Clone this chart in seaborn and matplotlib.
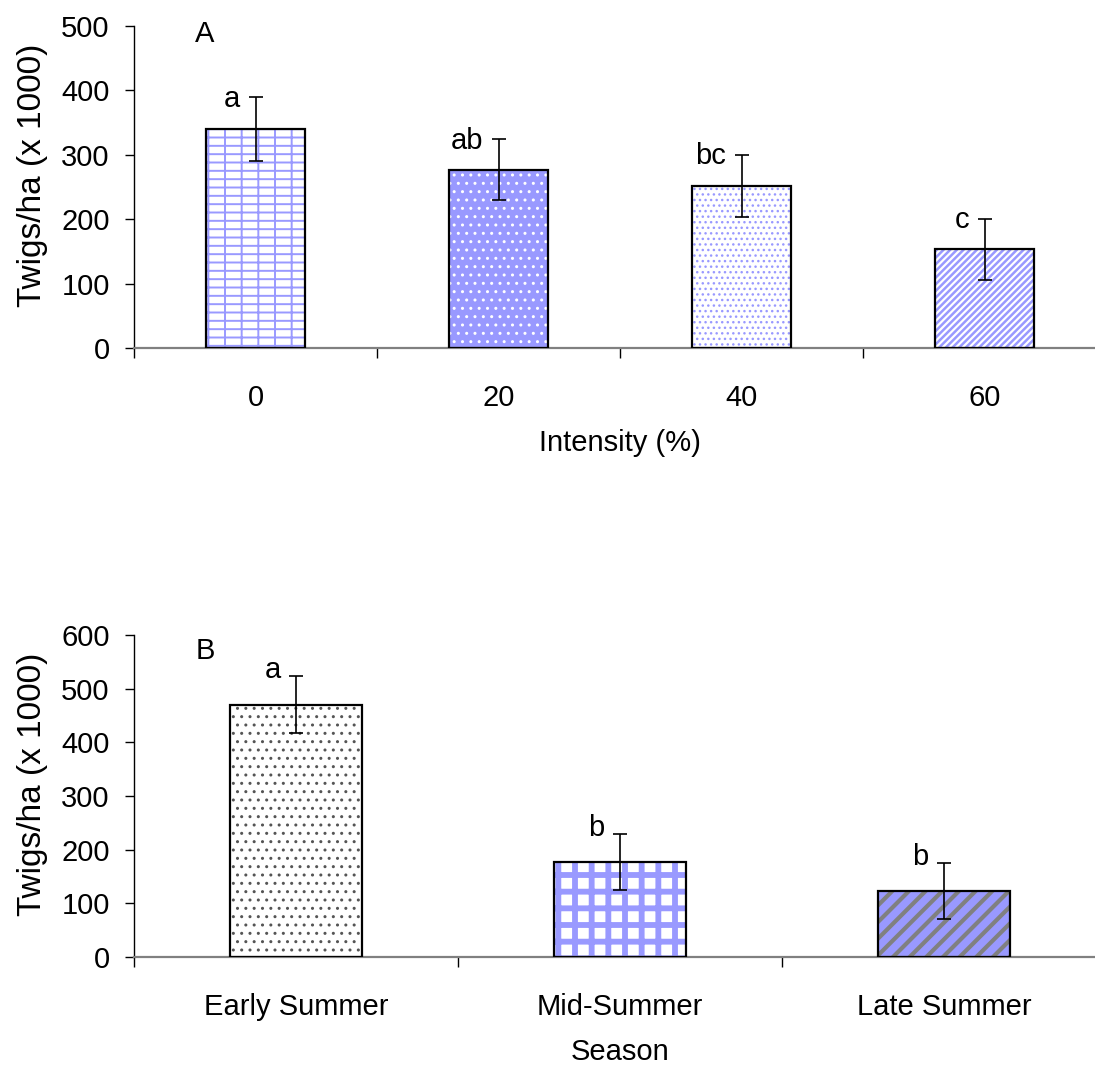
import matplotlib

matplotlib.use("Agg")
import matplotlib.pyplot as plt
import numpy as np
import pandas as pd
import seaborn as sns
from matplotlib.patches import Rectangle
from matplotlib.ticker import FixedLocator

# panel A: cutting intensity
intensity = ["0", "20", "40", "60"]
twigs_a = [340, 277, 252, 153]
se_a = [49, 47, 48, 48]
letters_a = ["a", "ab", "bc", "c"]

# panel B: season
season = ["Early Summer", "Mid-Summer", "Late Summer"]
twigs_b = [470, 177, 123]
se_b = [53, 53, 53]
letters_b = ["a", "b", "b"]

BLUE = "#9999FF"
GREY = "#808080"

# (face colour, hatch, hatch colour, hatch linewidth)
styles_a = [
    ("white", "--|", BLUE, 1.4),
    (BLUE, "..", "white", 1.0),
    ("white", "...", BLUE, 1.0),
    ("white", "/////", BLUE, 1.8),
]
styles_b = [
    ("white", "..", "#555555", 1.0),
    ("white", "+", BLUE, 4.2),
    (BLUE, "//", GREY, 3.0),
]

sns.set_theme(style="white")
plt.rcParams["font.family"] = ["Liberation Sans", "DejaVu Sans"]
plt.rcParams["font.size"] = 21
plt.rcParams["hatch.linewidth"] = 1.2
for key in ["text.color", "axes.labelcolor", "xtick.color", "ytick.color"]:
    plt.rcParams[key] = "black"

fig = plt.figure(figsize=(10.95, 10.69), dpi=100)
ax_a = fig.add_axes([0.1224, 0.6745, 0.8877, 0.3012])
ax_b = fig.add_axes([0.1224, 0.1048, 0.8877, 0.3012])


def draw_panel(ax, cats, vals, errs, letters, styles, ymax, xlabel, panel,
               letter_dy, panel_y):
    df = pd.DataFrame({"cat": cats, "val": vals})
    sns.barplot(data=df, x="cat", y="val", order=cats, color="white",
                width=0.41, errorbar=None, ax=ax)
    for patch, (face, hatch, hcol, hlw) in zip(ax.patches, styles):
        patch.set_facecolor(face)
        patch.set_edgecolor(hcol)
        patch.set_hatch(hatch)
        patch.set_linewidth(0)
        if hasattr(patch, "set_hatch_linewidth"):
            patch.set_hatch_linewidth(hlw)
        else:
            patch._hatch_linewidth = hlw
        outline = Rectangle(patch.get_xy(), patch.get_width(), patch.get_height(),
                            fill=False, edgecolor="black", linewidth=1.6, zorder=3)
        ax.add_patch(outline)

    xs = np.arange(len(cats))
    ax.errorbar(xs, vals, yerr=errs, fmt="none", ecolor="black",
                elinewidth=1.2, capsize=4.7, capthick=1.2, zorder=4)
    for x, v, e, lab in zip(xs, vals, errs, letters):
        ax.annotate(lab, (x, v + e), xytext=(-11, letter_dy), textcoords="offset points",
                    ha="right", va="baseline", fontsize=21)

    ax.set_xlim(-0.5, len(cats) - 0.5)
    ax.set_ylim(0, ymax)
    ax.set_yticks(np.arange(0, ymax + 1, 100))
    ax.xaxis.set_minor_locator(FixedLocator(np.arange(len(cats) + 1) - 0.5))
    ax.tick_params(axis="x", which="major", length=0, pad=26, labelsize=21)
    ax.tick_params(axis="x", which="minor", length=7.5, width=1, color="black",
                   direction="out", bottom=True)
    ax.tick_params(axis="y", length=6.5, width=1, color="black", direction="out",
                   left=True, pad=11, labelsize=21)
    ax.set_xlabel(xlabel, fontsize=21, labelpad=12)
    ax.set_ylabel("Twigs/ha (x 1000)", fontsize=24)
    ax.yaxis.set_label_coords(-0.089, 0.535)
    for side in ["top", "right"]:
        ax.spines[side].set_visible(False)
    ax.spines["left"].set_color("black")
    ax.spines["left"].set_linewidth(1)
    ax.spines["bottom"].set_color(GREY)
    ax.spines["bottom"].set_linewidth(1.6)
    ax.text(0.063, panel_y, panel, transform=ax.transAxes,
            fontsize=21, va="baseline", ha="left")


draw_panel(ax_a, intensity, twigs_a, se_a, letters_a, styles_a, 500,
           "Intensity (%)", "A", -7, 0.95)
draw_panel(ax_b, season, twigs_b, se_b, letters_b, styles_b, 600,
           "Season", "B", -1.5, 0.925)

fig.savefig("out.png", dpi=100)
